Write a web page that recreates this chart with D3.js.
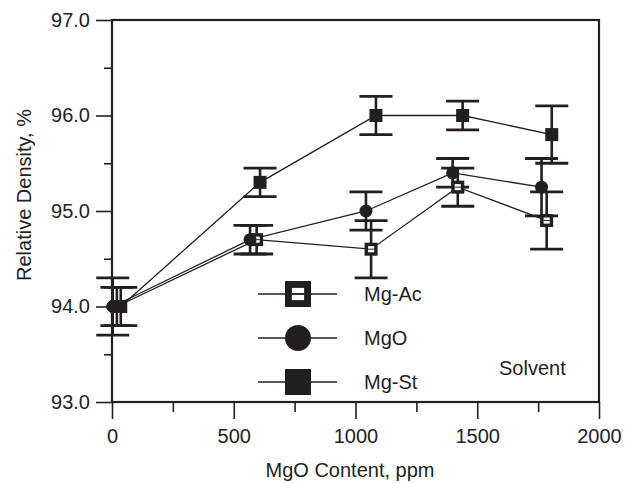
<!DOCTYPE html>
<html>
<head>
<meta charset="utf-8">
<script src="https://cdn.jsdelivr.net/npm/d3@7"></script>
<style>
  body { margin: 0; background: #fff; }
  text { font-family: "Liberation Sans", Arial, sans-serif; fill: #231f20; }
</style>
</head>
<body>
<div class="box"></div>
<script>
// data
const seriesNames = ["Mg-Ac", "MgO", "Mg-St"];

const mgAcX = [20, 594, 1064, 1420, 1785];
const mgAcY = [94.0, 94.7, 94.6, 95.25, 94.9];
const mgAcErr = [0.2, 0.15, 0.3, 0.2, 0.3];

const mgoX = [3, 567, 1043, 1399, 1764];
const mgoY = [94.0, 94.7, 95.0, 95.4, 95.25];
const mgoErr = [0.3, 0.15, 0.2, 0.15, 0.3];

const mgStX = [36, 608, 1084, 1440, 1806];
const mgStY = [94.0, 95.3, 96.0, 96.0, 95.8];
const mgStErr = [0.2, 0.15, 0.2, 0.15, 0.3];

const xTicks = [0, 500, 1000, 1500, 2000];
const xMinor = [250, 750, 1250, 1750];
const yTicks = [93, 94, 95, 96, 97];
const yMinor = [93.5, 94.5, 95.5, 96.5];

// svg box
const w = 630;
const h = 483;
const plotLeft = 112, plotRight = 599, plotTop = 20, plotBottom = 402;
const ink = "#231f20";

const svg = d3.select(".box")
                .append("svg")
                .attr("width", w)
                .attr("height", h);

const xScale = d3.scaleLinear().domain([0, 2000]).range([plotLeft, plotRight]);
const yScale = d3.scaleLinear().domain([93, 97]).range([plotBottom, plotTop]);

// AXES (ticks point outward)
const xAxis = d3.axisBottom(xScale).tickValues(xTicks).tickSize(17).tickSizeOuter(0).tickPadding(10)
                .tickFormat(d3.format("d"));
const xAxisMinor = d3.axisBottom(xScale).tickValues(xMinor).tickSize(10).tickSizeOuter(0).tickFormat("");
const yAxis = d3.axisLeft(yScale).tickValues(yTicks).tickSize(16).tickSizeOuter(0).tickPadding(6)
                .tickFormat(d3.format(".1f"));
const yAxisMinor = d3.axisLeft(yScale).tickValues(yMinor).tickSize(8).tickSizeOuter(0).tickFormat("");

function styleAxis(g) {
    g.select(".domain").remove();
    g.selectAll("line").attr("stroke", ink).attr("stroke-width", 1.6);
    g.selectAll("text").style("font-size", "20px").attr("fill", ink);
}

svg.append("g").attr("transform", "translate(0," + plotBottom + ")").call(xAxis).call(styleAxis);
svg.append("g").attr("transform", "translate(0," + plotBottom + ")").call(xAxisMinor).call(styleAxis);
svg.append("g").attr("transform", "translate(" + plotLeft + ",0)").call(yAxis).call(styleAxis);
svg.append("g").attr("transform", "translate(" + plotLeft + ",0)").call(yAxisMinor).call(styleAxis);

// frame
svg.append("rect")
    .attr("x", plotLeft).attr("y", plotTop)
    .attr("width", plotRight - plotLeft).attr("height", plotBottom - plotTop)
    .attr("fill", "none")
    .attr("stroke", ink)
    .attr("stroke-width", 2.2);

// AXIS TITLES
svg.append("text")
    .attr("transform", "rotate(-90)")
    .attr("x", -195)
    .attr("y", 31)
    .attr("text-anchor", "middle")
    .style("font-size", "20px")
    .text("Relative Density, %");

svg.append("text")
    .attr("x", 350)
    .attr("y", 477)
    .attr("text-anchor", "middle")
    .style("font-size", "20px")
    .text("MgO Content, ppm");

// build series
function pack(xs, ys, es) {
    return xs.map((x, i) => ({x: x, y: ys[i], e: es[i]}));
}
const series = [
    {name: seriesNames[0], pts: pack(mgAcX, mgAcY, mgAcErr), shape: "open"},
    {name: seriesNames[1], pts: pack(mgoX, mgoY, mgoErr), shape: "circle"},
    {name: seriesNames[2], pts: pack(mgStX, mgStY, mgStErr), shape: "square"}
];

const line = d3.line().x(d => xScale(d.x)).y(d => yScale(d.y));

// connecting lines
svg.selectAll(".series-line")
    .data(series)
    .enter()
    .append("path")
    .attr("class", "series-line")
    .attr("d", d => line(d.pts))
    .attr("fill", "none")
    .attr("stroke", ink)
    .attr("stroke-width", 1.3);

// error bars
const capHalf = 16.5;
series.forEach(function(s) {
    const g = svg.append("g");
    s.pts.forEach(function(p) {
        const cx = xScale(p.x);
        g.append("line")
            .attr("x1", cx).attr("x2", cx)
            .attr("y1", yScale(p.y + p.e)).attr("y2", yScale(p.y - p.e))
            .attr("stroke", ink).attr("stroke-width", 2.6);
        [p.y + p.e, p.y - p.e].forEach(function(v) {
            g.append("line")
                .attr("x1", cx - capHalf).attr("x2", cx + capHalf)
                .attr("y1", yScale(v)).attr("y2", yScale(v))
                .attr("stroke", ink).attr("stroke-width", 2.8);
        });
    });
});

// markers
function drawMarker(g, shape, cx, cy, size) {
    if (shape === "circle") {
        g.append("circle").attr("cx", cx).attr("cy", cy).attr("r", size / 2).attr("fill", ink);
    } else {
        g.append("rect")
            .attr("x", cx - size / 2).attr("y", cy - size / 2)
            .attr("width", size).attr("height", size)
            .attr("fill", ink);
        if (shape === "open") {
            const inner = size * 0.47;
            g.append("rect")
                .attr("x", cx - inner / 2).attr("y", cy - inner / 2)
                .attr("width", inner).attr("height", inner)
                .attr("fill", "#fff");
            g.append("line")
                .attr("x1", cx - inner / 2).attr("x2", cx + inner / 2)
                .attr("y1", cy).attr("y2", cy)
                .attr("stroke", ink).attr("stroke-width", Math.max(1, size / 14));
        }
    }
}

series.forEach(function(s) {
    const g = svg.append("g");
    s.pts.forEach(p => drawMarker(g, s.shape, xScale(p.x), yScale(p.y), 13));
});

// LEGEND
const legendY = [294, 338, 382];
const legend = svg.append("g").attr("id", "legend");
series.forEach(function(s, i) {
    const y = legendY[i];
    legend.append("line")
        .attr("x1", 258).attr("x2", 337)
        .attr("y1", y).attr("y2", y)
        .attr("stroke", ink).attr("stroke-width", 1.3);
    drawMarker(legend, s.shape, 298, y, 26);
    legend.append("text")
        .attr("x", 364)
        .attr("y", y + 7)
        .style("font-size", "20px")
        .text(s.name);
});

svg.append("text")
    .attr("x", 499)
    .attr("y", 375)
    .style("font-size", "20px")
    .text("Solvent");
</script>
</body>
</html>
